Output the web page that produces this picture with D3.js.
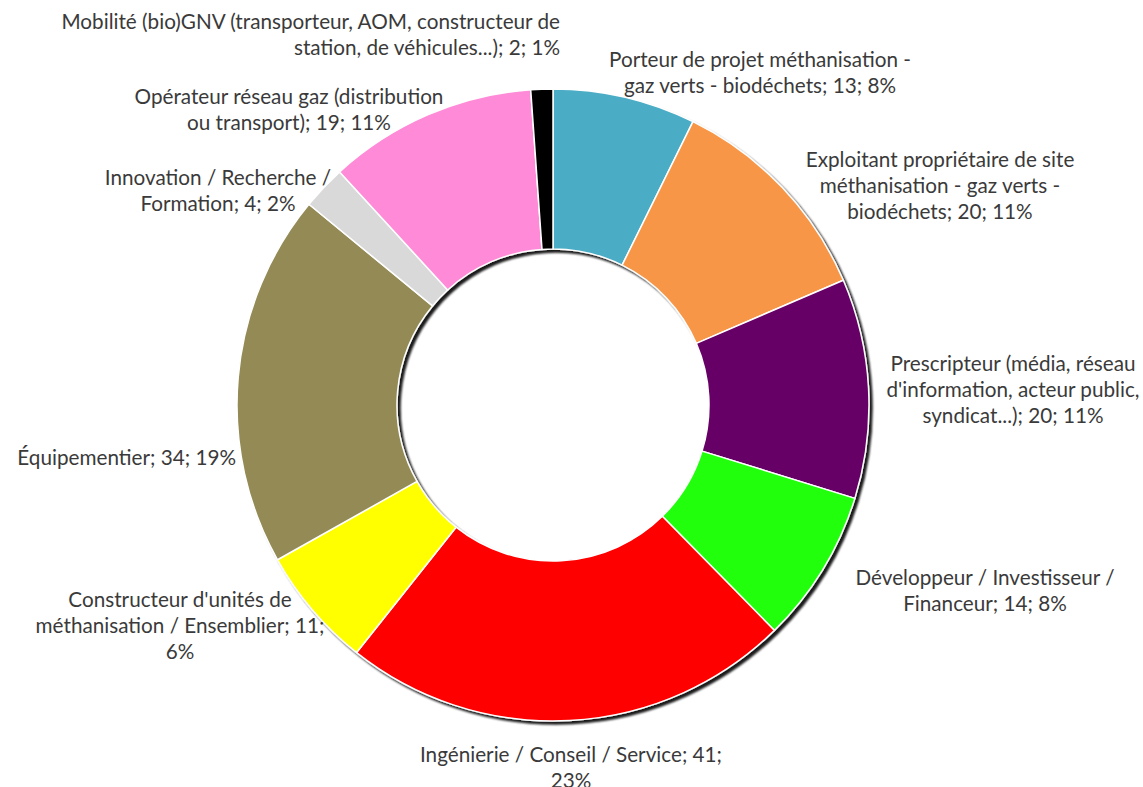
<!DOCTYPE html>
<html>
<head>
<meta charset="utf-8">
<script src="https://cdn.jsdelivr.net/npm/d3@7"></script>
<style>
    body { margin: 0; background: #fff; }
    .label { font-family: Lato, "Open Sans", sans-serif; font-size: 20.7px; fill: #3a3a3a; }
</style>
</head>
<body>
<div class="graph"></div>
<script>
// categories, clockwise from 12 o'clock
var categories = [
    "Porteur de projet méthanisation - gaz verts - biodéchets",
    "Exploitant propriétaire de site méthanisation - gaz verts - biodéchets",
    "Prescripteur (média, réseau d'information, acteur public, syndicat...)",
    "Développeur / Investisseur / Financeur",
    "Ingénierie / Conseil / Service",
    "Constructeur d'unités de méthanisation / Ensemblier",
    "Équipementier",
    "Innovation / Recherche / Formation",
    "Opérateur réseau gaz (distribution ou transport)",
    "Mobilité (bio)GNV (transporteur, AOM, constructeur de station, de véhicules...)"
];
var counts = [13, 20, 20, 14, 41, 11, 34, 4, 19, 2];
var percents = ["8%", "11%", "11%", "8%", "23%", "6%", "19%", "2%", "11%", "1%"];
var colors = ["#4bacc6", "#f79646", "#660066", "#22ff11", "#ff0000",
              "#ffff00", "#948a54", "#d9d9d9", "#ff8ad8", "#000000"];
// words per line when wrapping each label
var wrapWords = [[5], [4, 5], [3, 3], [4], [6], [3, 4], [], [4], [4], [6]];

// label layout: x, y of first line, anchor
var labelPos = [
    [760, 60, "middle"], [940, 160, "middle"], [1013, 364, "middle"],
    [985, 578, "middle"], [571, 755, "middle"], [180, 600, "middle"],
    [236, 458, "end"], [218, 178, "middle"], [289, 97, "middle"],
    [560, 22, "end"]
];

var width = 1143, height = 787;
var cx = 553, cy = 405, outerR = 316, innerR = 156;
var lineH = 26;

var svg = d3.select(".graph").append("svg")
    .attr("width", width)
    .attr("height", height);

var defs = svg.append("defs");
var shadow = defs.append("filter")
    .attr("id", "shadow")
    .attr("x", "-10%").attr("y", "-10%")
    .attr("width", "120%").attr("height", "120%");
shadow.append("feGaussianBlur").attr("in", "SourceAlpha").attr("stdDeviation", 1.1).attr("result", "blur");
shadow.append("feOffset").attr("in", "blur").attr("dx", 3).attr("dy", 3).attr("result", "off");
shadow.append("feComponentTransfer").attr("in", "off").attr("result", "dark")
    .append("feFuncA").attr("type", "linear").attr("slope", 0.9);
var merge = shadow.append("feMerge");
merge.append("feMergeNode").attr("in", "dark");
merge.append("feMergeNode").attr("in", "SourceGraphic");

var pie = d3.pie().sort(null).value(function(d) { return d; });
var arc = d3.arc().innerRadius(innerR).outerRadius(outerR);

var ring = svg.append("g")
    .attr("transform", "translate(" + cx + "," + cy + ")")
    .attr("filter", "url(#shadow)");

ring.selectAll("path")
    .data(pie(counts))
    .enter()
    .append("path")
    .attr("d", arc)
    .attr("fill", function(d, i) { return colors[i]; })
    .attr("stroke", "#fff")
    .attr("stroke-width", 1.5)
    .attr("stroke-linejoin", "round");

// build wrapped label lines from the category, count and percent
function labelLines(i) {
    var words = (categories[i] + "; " + counts[i] + "; " + percents[i]).split(" ");
    var lines = [], pos = 0;
    wrapWords[i].forEach(function(n) {
        lines.push(words.slice(pos, pos + n).join(" "));
        pos += n;
    });
    lines.push(words.slice(pos).join(" "));
    return lines;
}

var labels = svg.selectAll(".label")
    .data(categories)
    .enter()
    .append("text")
    .attr("class", "label")
    .attr("text-anchor", function(d, i) { return labelPos[i][2]; })
    .attr("transform", function(d, i) { return "translate(" + labelPos[i][0] + "," + labelPos[i][1] + ")"; });

labels.selectAll("tspan")
    .data(function(d, i) { return labelLines(i); })
    .enter()
    .append("tspan")
    .attr("x", 0)
    .attr("y", function(d, j) { return j * lineH; })
    .attr("dy", "0.35em")
    .text(function(d) { return d; });
</script>
</body>
</html>
